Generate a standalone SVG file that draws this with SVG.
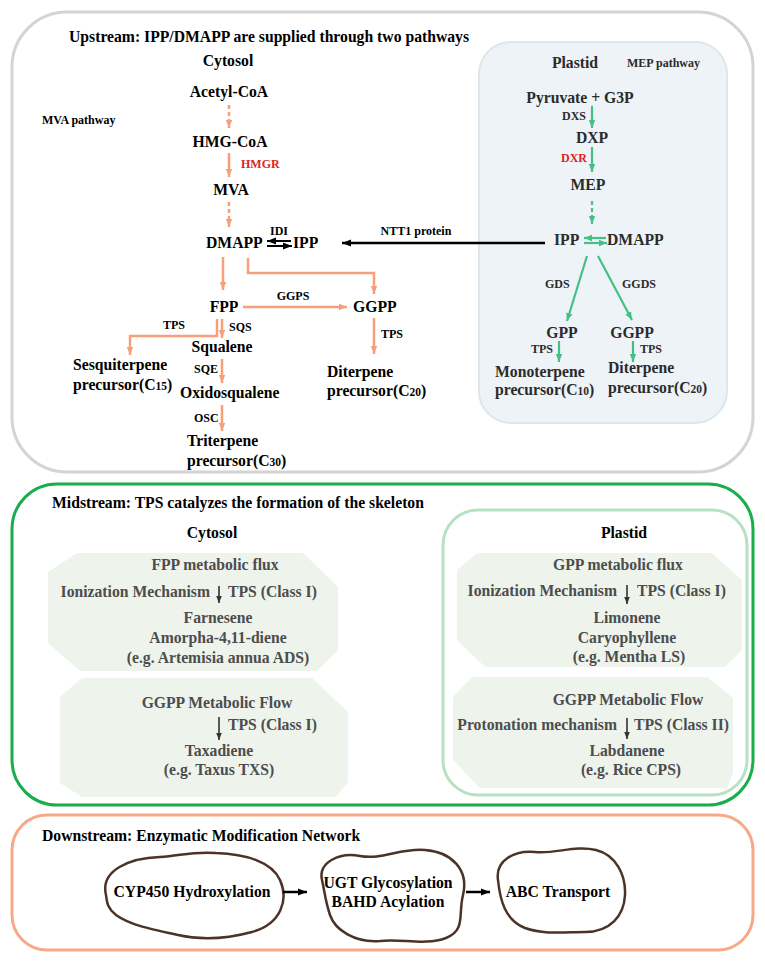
<svg xmlns="http://www.w3.org/2000/svg" width="765" height="961" viewBox="0 0 765 961" font-family="'Liberation Serif', 'DejaVu Serif', 'Times New Roman', serif">
<style>
text{font-family:'Liberation Serif','DejaVu Serif','Times New Roman',serif;font-weight:bold}
.n{font-size:15.7px;fill:#000}
.np{font-size:15.7px;fill:#2b2b2b}
.s{font-size:12px;fill:#000}
.sp{font-size:12px;fill:#2b2b2b}
.red{fill:#de2424}
.m{font-size:15.7px;fill:#4d4d4d}
.c{text-anchor:middle}
.sub{font-size:11.5px}
.or{stroke:#f5a07b;stroke-width:2.5;fill:none}
.gr{stroke:#45bf85;stroke-width:2.2;fill:none}
.dash{stroke-dasharray:4 3}
.oct{fill:#eef4ec}
.blob{fill:#fff;stroke:#4b3327;stroke-width:2.5}
</style>
<defs>
<marker id="ao" viewBox="0 0 10 10" refX="10" refY="5" markerWidth="8" markerHeight="8" markerUnits="userSpaceOnUse" orient="auto"><path d="M0,1 L10,5 L0,9 z" fill="#f5a07b"/></marker>
<marker id="ag" viewBox="0 0 10 10" refX="10" refY="5" markerWidth="8" markerHeight="8" markerUnits="userSpaceOnUse" orient="auto"><path d="M0,1 L10,5 L0,9 z" fill="#45bf85"/></marker>
<marker id="ak" viewBox="0 0 10 10" refX="10" refY="5" markerWidth="9" markerHeight="9" markerUnits="userSpaceOnUse" orient="auto"><path d="M0,1 L10,5 L0,9 z" fill="#000"/></marker>
<marker id="am" viewBox="0 0 10 10" refX="10" refY="5" markerWidth="7" markerHeight="7" markerUnits="userSpaceOnUse" orient="auto"><path d="M0,1 L10,5 L0,9 z" fill="#333"/></marker>
</defs>

<!-- containers -->
<g id="upstream">
<rect x="12" y="12" width="741" height="460" rx="55" fill="#fff" stroke="#d4d4d4" stroke-width="3"/>
<text x="69" y="42" class="n">Upstream: IPP/DMAPP are supplied through two pathways</text>
<text x="228" y="66" class="n c">Cytosol</text>
<text x="42" y="124" class="s">MVA pathway</text>
</g>
<g id="plastid-up">
<rect x="479" y="42" width="248" height="381" rx="32" fill="#edf3f7" stroke="#dde6ec" stroke-width="2"/>
<text x="575" y="68" class="np c">Plastid</text>
<text x="627" y="67" class="sp">MEP pathway</text>
</g>
<g id="midstream">
<rect x="12" y="484" width="741" height="321" rx="45" fill="#fff" stroke="#1aad4c" stroke-width="3"/>
<text x="52" y="508" class="n">Midstream: TPS catalyzes the formation of the skeleton</text>
<text x="212" y="538" class="n c">Cytosol</text>
<rect x="443" y="510" width="304" height="285" rx="35" fill="#fff" stroke="#b6e2c4" stroke-width="3"/>
<text x="624" y="538" class="n c">Plastid</text>
</g>
<g id="downstream">
<rect x="12" y="815" width="741" height="135" rx="35" fill="#fff" stroke="#f7a888" stroke-width="3"/>
<text x="42" y="841" class="n">Downstream: Enzymatic Modification Network</text>
</g>

<!-- upstream cytosol nodes -->
<g id="acetyl-coa"><text x="229" y="97" class="n c">Acetyl-CoA</text></g>
<g id="hmg-coa"><text x="230" y="147" class="n c">HMG-CoA</text></g>
<g id="mva"><text x="231" y="195" class="n c">MVA</text></g>
<g id="dmapp-cyt"><text x="206" y="248" class="n">DMAPP</text></g>
<g id="ipp-cyt"><text x="293" y="248" class="n">IPP</text></g>
<g id="fpp"><text x="224" y="312" class="n c">FPP</text></g>
<g id="ggpp-cyt"><text x="353" y="312" class="n">GGPP</text></g>
<g id="squalene"><text x="222" y="352" class="n c">Squalene</text></g>
<g id="sesqui"><text x="73" y="370" class="n">Sesquiterpene</text><text x="73" y="390" class="n">precursor(C<tspan class="sub">15</tspan>)</text></g>
<g id="diterpene-cyt"><text x="327" y="377" class="n">Diterpene</text><text x="327" y="396" class="n">precursor(C<tspan class="sub">20</tspan>)</text></g>
<g id="oxidosqualene"><text x="180" y="398" class="n">Oxidosqualene</text></g>
<g id="triterpene"><text x="187" y="446" class="n">Triterpene</text><text x="187" y="466" class="n">precursor(C<tspan class="sub">30</tspan>)</text></g>

<!-- upstream plastid nodes -->
<g id="pyruvate"><text x="580" y="103" class="np c">Pyruvate + G3P</text></g>
<g id="dxp"><text x="592" y="143" class="np c">DXP</text></g>
<g id="mep"><text x="588" y="190" class="np c">MEP</text></g>
<g id="ipp-pl"><text x="554" y="245" class="np">IPP</text></g>
<g id="dmapp-pl"><text x="607" y="245" class="np">DMAPP</text></g>
<g id="gpp-pl"><text x="562" y="338" class="np c">GPP</text></g>
<g id="ggpp-pl"><text x="632" y="338" class="np c">GGPP</text></g>
<g id="mono"><text x="495" y="377" class="np">Monoterpene</text><text x="495" y="395" class="np">precursor(C<tspan class="sub">10</tspan>)</text></g>
<g id="diterpene-pl"><text x="608" y="373" class="np">Diterpene</text><text x="608" y="393" class="np">precursor(C<tspan class="sub">20</tspan>)</text></g>

<!-- midstream nodes -->
<g id="fpp-flux">
<polygon class="oct" points="77,553 303,553 338,587 338,650 317,671 80,671 48,643 48,572"/>
<text x="215" y="570" class="m c">FPP metabolic flux</text>
<text x="210" y="597" class="m" text-anchor="end">Ionization Mechanism</text>
<text x="228" y="597" class="m">TPS (Class I)</text>
<text x="218" y="623" class="m c">Farnesene</text>
<text x="218" y="643" class="m c">Amorpha-4,11-diene</text>
<text x="218" y="663" class="m c">(e.g. Artemisia annua ADS)</text>
</g>
<g id="ggpp-flow-cyt">
<polygon class="oct" points="82,678 312,678 348,712 348,782 336,797 82,797 60,783 60,697"/>
<text x="217" y="708" class="m c">GGPP Metabolic Flow</text>
<text x="228" y="730" class="m">TPS (Class I)</text>
<text x="219" y="756" class="m c">Taxadiene</text>
<text x="219" y="775" class="m c">(e.g. Taxus TXS)</text>
</g>
<g id="gpp-flux">
<polygon class="oct" points="477,553 712,553 742,580 742,650 725,667 485,667 457,640 457,570"/>
<text x="618" y="570" class="m c">GPP metabolic flux</text>
<text x="617" y="596" class="m" text-anchor="end">Ionization Mechanism</text>
<text x="637" y="596" class="m">TPS (Class I)</text>
<text x="627" y="623" class="m c">Limonene</text>
<text x="627" y="643" class="m c">Caryophyllene</text>
<text x="629" y="662" class="m c">(e.g. Mentha LS)</text>
</g>
<g id="ggpp-flow-pl">
<polygon class="oct" points="472,677 707,677 733,698 733,773 727,788 480,788 453,760 453,697"/>
<text x="628" y="705" class="m c">GGPP Metabolic Flow</text>
<text x="617" y="730" class="m" text-anchor="end">Protonation mechanism</text>
<text x="634" y="730" class="m">TPS (Class II)</text>
<text x="627" y="756" class="m c">Labdanene</text>
<text x="631" y="775" class="m c">(e.g. Rice CPS)</text>
</g>

<!-- downstream nodes -->
<g id="cyp450">
<path class="blob" d="M106 895 C100 870,130 858,160 857 C180 856,192 851,216 853 C246 854,272 862,280 880 C289 900,281 924,252 932 C226 939,200 940,178 935 C150 929,130 925,116 915 C106 907,107 900,106 895 Z"/>
<text x="192" y="897" class="n c">CYP450 Hydroxylation</text>
</g>
<g id="ugt">
<path class="blob" d="M322 880 C318 862,340 852,360 856 C382 860,400 848,425 850 C452 852,469 870,463 895 C458 915,466 930,446 938 C425 946,400 938,380 941 C355 943,335 930,330 915 C325 900,325 893,322 880 Z"/>
<text x="388" y="888" class="n c">UGT Glycosylation</text>
<text x="388" y="907" class="n c">BAHD Acylation</text>
</g>
<g id="abc">
<path class="blob" d="M498 880 C495 860,515 850,535 852 C556 854,575 845,596 850 C616 855,626 875,625 895 C624 916,610 932,585 932 C565 932,545 935,525 928 C505 920,500 900,498 880 Z"/>
<text x="558" y="897" class="n c">ABC Transport</text>
</g>

<!-- connectors -->
<g id="connectors">
<line class="or dash" x1="229" y1="105" x2="229" y2="128" marker-end="url(#ao)"/>
<line class="or" x1="229" y1="153" x2="229" y2="177" marker-end="url(#ao)"/>
<text x="241" y="168" class="s red">HMGR</text>
<line class="or dash" x1="229" y1="202" x2="229" y2="227" marker-end="url(#ao)"/>
<line x1="291" y1="241" x2="267" y2="241" stroke="#000" stroke-width="2" marker-end="url(#ak)"/>
<line x1="267" y1="246" x2="292" y2="246" stroke="#000" stroke-width="2" marker-end="url(#ak)"/>
<text x="279" y="235" class="s c">IDI</text>
<line x1="545" y1="243" x2="342" y2="243" stroke="#000" stroke-width="2.5" marker-end="url(#ak)"/>
<text x="416" y="235" class="s c">NTT1 protein</text>
<line class="or" x1="223" y1="257" x2="223" y2="290" marker-end="url(#ao)"/>
<polyline class="or" points="248,258 248,273 374,273 374,294" marker-end="url(#ao)"/>
<line class="or" x1="243" y1="307" x2="347" y2="307" marker-end="url(#ao)"/>
<text x="293" y="300" class="s c">GGPS</text>
<line class="or" x1="374" y1="318" x2="374" y2="354" marker-end="url(#ao)"/>
<text x="381" y="338" class="s">TPS</text>
<polyline class="or" points="217,319 217,336 130,336 130,355" marker-end="url(#ao)"/>
<text x="163" y="329" class="s">TPS</text>
<line class="or" x1="222" y1="319" x2="222" y2="338" marker-end="url(#ao)"/>
<text x="229" y="331" class="s">SQS</text>
<line class="or" x1="222" y1="359" x2="222" y2="383" marker-end="url(#ao)"/>
<text x="194" y="373" class="s">SQE</text>
<line class="or" x1="222" y1="405" x2="222" y2="431" marker-end="url(#ao)"/>
<text x="194" y="422" class="s">OSC</text>

<line class="gr" x1="592" y1="106" x2="592" y2="128" marker-end="url(#ag)"/>
<text x="586" y="120" class="sp" text-anchor="end">DXS</text>
<line class="gr" x1="592" y1="147" x2="592" y2="172" marker-end="url(#ag)"/>
<text x="587" y="162" class="s red" text-anchor="end">DXR</text>
<line class="gr dash" x1="592" y1="201" x2="592" y2="224" marker-end="url(#ag)"/>
<line class="gr" x1="606" y1="238" x2="584" y2="238" marker-end="url(#ag)"/>
<line class="gr" x1="584" y1="243" x2="607" y2="243" marker-end="url(#ag)"/>
<line class="gr" x1="587" y1="256" x2="567" y2="321" marker-end="url(#ag)"/>
<text x="545" y="288" class="sp">GDS</text>
<line class="gr" x1="598" y1="256" x2="632" y2="320" marker-end="url(#ag)"/>
<text x="622" y="288" class="sp">GGDS</text>
<line class="gr" x1="559" y1="341" x2="559" y2="362" marker-end="url(#ag)"/>
<text x="553" y="353" class="sp" text-anchor="end">TPS</text>
<line class="gr" x1="633" y1="341" x2="633" y2="362" marker-end="url(#ag)"/>
<text x="640" y="353" class="sp">TPS</text>

<line x1="219" y1="586" x2="219" y2="603" stroke="#333" stroke-width="1.6" marker-end="url(#am)"/>
<line x1="219" y1="717" x2="219" y2="740" stroke="#333" stroke-width="1.6" marker-end="url(#am)"/>
<line x1="627" y1="585" x2="627" y2="604" stroke="#333" stroke-width="1.6" marker-end="url(#am)"/>
<line x1="627" y1="718" x2="627" y2="739" stroke="#333" stroke-width="1.6" marker-end="url(#am)"/>

<line x1="283" y1="892" x2="307" y2="892" stroke="#000" stroke-width="2.5" marker-end="url(#ak)"/>
<line x1="466" y1="892" x2="490" y2="892" stroke="#000" stroke-width="2.5" marker-end="url(#ak)"/>
</g>
</svg>
